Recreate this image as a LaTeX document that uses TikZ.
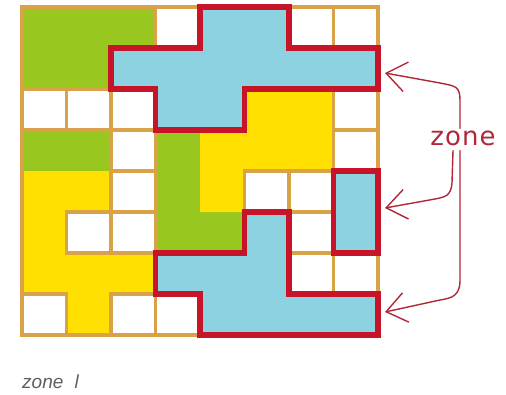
\documentclass[tikz,border=0pt]{standalone}
\usepackage{fontspec}
\setmainfont{Liberation Sans}
\newfontfamily\zonefont[LetterSpace=4]{DejaVu Sans}
\usetikzlibrary{arrows.meta}
\definecolor{cgreen}{RGB}{152,200,32}
\definecolor{cyellow}{RGB}{255,224,0}
\definecolor{cblue}{RGB}{140,210,224}
\definecolor{corange}{RGB}{218,162,72}
\definecolor{cred}{RGB}{200,20,40}
\definecolor{carrow}{RGB}{176,40,56}
\definecolor{cgray}{RGB}{95,95,95}
\begin{document}
\begin{tikzpicture}[x=1pt,y=-1pt,
  greencell/.style={fill=cgreen},
  yellowcell/.style={fill=cyellow},
  bluezone/.style={fill=cblue},
  whitecell/.style={fill=white, draw=corange, line width=3.5pt},
  gridframe/.style={draw=corange, line width=3.5pt},
  zoneline/.style={draw=cred, line width=5.5pt, line join=miter},
  zonearrow/.style={draw=carrow, line width=1.4pt, line cap=round, -{Straight Barb[length=20pt,width=30pt,line width=1.4pt]}}]
\useasboundingbox (0,0) rectangle (506,394);
\begin{scope}[shift={(22,7)}, x=44.5pt, y=-41pt]
  % green regions
  \path[greencell] (0,0) rectangle (3,1) (0,1) rectangle (2,2);
  \path[greencell] (0,3) rectangle (2,4);
  \path[greencell] (3,3) rectangle (4,6) (3,5) rectangle (5,6);
  % yellow regions
  \path[yellowcell] (5,2) rectangle (7,3) (4,3) rectangle (7,4) (4,4) rectangle (5,5);
  \path[yellowcell] (0,4) rectangle (2,5) (0,5) rectangle (1,6) (0,6) rectangle (3,7) (1,7) rectangle (2,8);
  % blue zones
  \path[bluezone] (4,0) -- (6,0) -- (6,1) -- (8,1) -- (8,2) -- (5,2) -- (5,3) -- (3,3) -- (3,2) -- (2,2) -- (2,1) -- (4,1) -- cycle;
  \path[bluezone] (7,4) rectangle (8,6);
  \path[bluezone] (5,5) -- (6,5) -- (6,7) -- (8,7) -- (8,8) -- (4,8) -- (4,7) -- (3,7) -- (3,6) -- (5,6) -- cycle;
  % white cells
  \foreach \c/\r in {3/0,6/0,7/0, 0/2,1/2,2/2,7/2, 2/3,7/3, 2/4,5/4,6/4, 1/5,2/5,6/5, 6/6,7/6, 0/7,2/7,3/7}
    \draw[whitecell] (\c,\r) rectangle ++(1,1);
  % frame
  \draw[gridframe] (0,0) rectangle (8,8);
  % red outlines
  \draw[zoneline] (4,0) -- (6,0) -- (6,1) -- (8,1) -- (8,2) -- (5,2) -- (5,3) -- (3,3) -- (3,2) -- (2,2) -- (2,1) -- (4,1) -- cycle;
  \draw[zoneline] (7,4) rectangle (8,6);
  \draw[zoneline] (5,5) -- (6,5) -- (6,7) -- (8,7) -- (8,8) -- (4,8) -- (4,7) -- (3,7) -- (3,6) -- (5,6) -- cycle;
\end{scope}
% label and arrows
\node[text=carrow, font=\zonefont\fontsize{26}{26}\selectfont, inner xsep=1pt, inner ysep=2pt] (zone) at (463,138) {zone};
\coordinate (tip1) at (385,73);
\coordinate (tip2) at (385,208);
\coordinate (tip3) at (385,312);
\draw[zonearrow] ([xshift=-3pt]zone.north) -- (460,100) .. controls (460,86) and (455,86) .. (440,83) -- (tip1);
\draw[zonearrow] ([xshift=-10pt,yshift=-3pt]zone.south) -- (452,183) .. controls (451,196) and (445,197) .. (435,199) -- (tip2);
\draw[zonearrow] ([xshift=-3pt,yshift=-3pt]zone.south) -- (460,280) .. controls (460,296) and (452,298) .. (440,300) -- (tip3);
\node[font=\itshape\fontsize{19}{19}\selectfont, text=cgray, anchor=west, inner sep=0pt] (caption) at (22,382) {zone\hspace{6pt} l};
\end{tikzpicture}
\end{document}
